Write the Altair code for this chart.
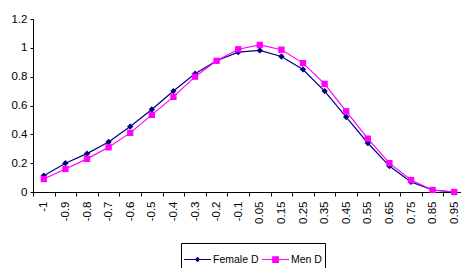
import altair as alt
import pandas as pd

categories = ["-1", "-0.9", "-0.8", "-0.7", "-0.6", "-0.5", "-0.4", "-0.3", "-0.2", "-0.1",
              "0.05", "0.15", "0.25", "0.35", "0.45", "0.55", "0.65", "0.75", "0.85", "0.95"]
female_d = [0.113, 0.20, 0.266, 0.347, 0.454, 0.572, 0.70, 0.82, 0.91, 0.97,
            0.982, 0.94, 0.85, 0.70, 0.52, 0.34, 0.18, 0.07, 0.014, 0.0]
men_d = [0.09, 0.16, 0.23, 0.31, 0.41, 0.535, 0.66, 0.80, 0.91, 0.99,
         1.02, 0.987, 0.894, 0.75, 0.56, 0.37, 0.20, 0.083, 0.014, 0.0]
series = ["Female D", "Men D"]
colors = ["#000080", "#FF00FF"]
point_shapes = ["diamond", "square"]
# legend symbols: a thin bar (the line) plus the marker, as filled shapes
legend_shapes = ["M-1,-0.045H1V0.045H-1ZM0,-0.2L0.2,0L0,0.2L-0.2,0Z",
                 "M-1,-0.045H1V0.045H-1ZM-0.25,-0.25H0.25V0.25H-0.25Z"]
y_ticks = [0, 0.2, 0.4, 0.6, 0.8, 1, 1.2]

rows = []
for i, (c, f, m) in enumerate(zip(categories, female_d, men_d)):
    rows.append({"x": c, "idx": i, "series": "Female D", "y": f})
    rows.append({"x": c, "idx": i, "series": "Men D", "y": m})
df = pd.DataFrame(rows)

FONT = "Liberation Sans"

x_enc = alt.X(
    "x:N", sort=categories,
    scale=alt.Scale(type="band", paddingInner=0, paddingOuter=0),
    axis=alt.Axis(title=None, labelAngle=270, tickBand="extent", tickSize=4,
                  labelPadding=5, labelFont=FONT, labelFontSize=11.5, labelColor="black",
                  domainColor="black", tickColor="black", grid=False, labelOverlap=False),
)
y_enc = alt.Y(
    "y:Q",
    scale=alt.Scale(domain=[0, 1.2], nice=False, zero=True),
    axis=alt.Axis(title=None, values=y_ticks, format="~g", grid=False, tickSize=3,
                  labelPadding=3, labelFont=FONT, labelFontSize=11.5, labelColor="black",
                  domainColor="black", tickColor="black"),
)
color_scale = alt.Scale(domain=series, range=colors)

leg = alt.Legend(title=None, orient="none", legendX=148, legendY=224, direction="horizontal",
                 symbolSize=729, symbolStrokeWidth=0, labelFont=FONT, labelFontSize=10.5,
                 labelColor="black", strokeColor="black", fillColor="white", padding=3,
                 columnPadding=3, labelOffset=2, cornerRadius=0)

color_enc = alt.Color("series:N", scale=color_scale, legend=leg)

lines = alt.Chart(df).mark_line(strokeWidth=1.2).encode(
    x=x_enc, y=y_enc, color=color_enc, order=alt.Order("idx:Q"),
)
point_layers = [
    alt.Chart(df).transform_filter(alt.datum.series == s).mark_point(
        shape=shp, filled=True, size=40, opacity=1).encode(x=x_enc, y=y_enc, color=color_enc)
    for s, shp in zip(series, point_shapes)
]

legend_layer = alt.Chart(df).transform_filter("false").mark_point(
    filled=True, strokeWidth=0, opacity=1).encode(
    x=x_enc, y=y_enc,
    color=color_enc,
    shape=alt.Shape("series:N", scale=alt.Scale(domain=series, range=legend_shapes), legend=leg),
)

chart = alt.layer(lines, *point_layers, legend_layer).properties(
    width=432, height=173,
    autosize=alt.AutoSizeParams(type="none"),
    padding={"left": 25, "top": 11, "right": -4, "bottom": 76},
    background="white",
).configure_view(stroke=None)

chart.save("out.html", embed_options={"renderer": "svg", "actions": False})
